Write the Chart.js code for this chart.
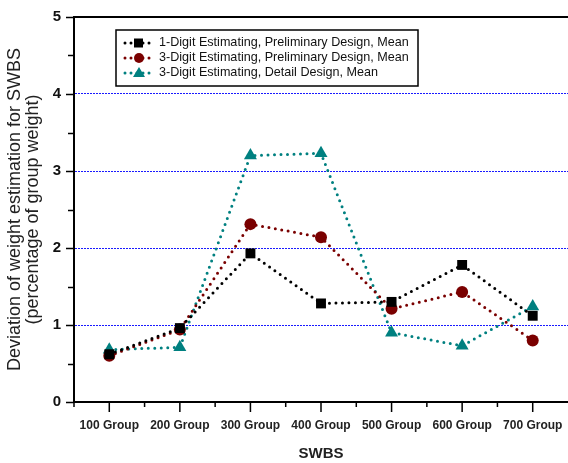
<!DOCTYPE html>
<html>
<head>
<meta charset="utf-8">
<script src="https://cdn.jsdelivr.net/npm/chart.js@4.4.1/dist/chart.umd.min.js"></script>
<style>
  html, body { margin: 0; padding: 0; background: #fff; }
  #wrap { width: 568px; height: 463px; position: relative; }
</style>
</head>
<body>
<div id="wrap"><canvas id="chart"></canvas></div>
<script>
const groups = ['100 Group', '200 Group', '300 Group', '400 Group', '500 Group', '600 Group', '700 Group'];
const oneDigitPrelim = [0.62, 0.96, 1.93, 1.28, 1.30, 1.78, 1.12];
const threeDigitPrelim = [0.60, 0.94, 2.31, 2.14, 1.21, 1.43, 0.80];
const threeDigitDetail = [0.68, 0.71, 3.20, 3.23, 0.90, 0.73, 1.24];
const yTicks = [0, 1, 2, 3, 4, 5];

const FONT = "Arial, 'Liberation Sans', sans-serif";

// axis tick marks, top frame line and the boxed legend
const extras = {
    id: 'extras',
    afterDraw(chart) {
        const c = chart.ctx;
        const x = chart.scales.x, y = chart.scales.y;
        const area = chart.chartArea;
        c.save();
        c.strokeStyle = '#000';
        c.lineWidth = 2;
        c.beginPath();
        c.moveTo(area.left - 1, area.top);
        c.lineTo(area.right, area.top);
        c.stroke();

        c.lineWidth = 1.5;
        c.beginPath();
        for (let v = 0; v <= 5; v += 0.5) {
            const py = Math.round(y.getPixelForValue(v)) + 0.5;
            const len = Number.isInteger(v) ? 8 : 6;
            c.moveTo(area.left - len, py);
            c.lineTo(area.left, py);
        }
        const half = (x.getPixelForValue(1) - x.getPixelForValue(0)) / 2;
        for (let i = 0; i < groups.length; i++) {
            const px = x.getPixelForValue(i);
            c.moveTo(px, area.bottom);
            c.lineTo(px, area.bottom + 10);
            c.moveTo(px - half, area.bottom);
            c.lineTo(px - half, area.bottom + 5);
        }
        c.stroke();

        // legend
        const lx = 116, ly = 30, lw = 302, lh = 56;
        c.fillStyle = '#fff';
        c.fillRect(lx, ly, lw, lh);
        c.lineWidth = 1.5;
        c.strokeStyle = '#000';
        c.strokeRect(lx, ly, lw, lh);
        chart.data.datasets.forEach((ds, i) => {
            const ry = 43 + i * 15;
            c.strokeStyle = ds.borderColor;
            c.lineWidth = 3;
            c.lineCap = 'round';
            c.setLineDash([0, 6]);
            c.beginPath();
            c.moveTo(125, ry);
            c.lineTo(153, ry);
            c.stroke();
            c.setLineDash([]);
            c.fillStyle = ds.backgroundColor;
            c.beginPath();
            if (ds.pointStyle === 'rect') {
                c.rect(134, ry - 4.5, 9, 9);
            } else if (ds.pointStyle === 'circle') {
                c.arc(139, ry, 5, 0, Math.PI * 2);
            } else {
                c.moveTo(139, ry - 6);
                c.lineTo(145, ry + 4);
                c.lineTo(133, ry + 4);
                c.closePath();
            }
            c.fill();
            c.fillStyle = '#111';
            c.font = '12.6px ' + FONT;
            c.textBaseline = 'middle';
            c.fillText(ds.label, 159, ry);
        });
        c.restore();
    }
};

const ctx = document.querySelector('#chart').getContext('2d');
const chart = new Chart(ctx, {
    type: 'line',
    data: {
        labels: groups,
        datasets: [{
            label: '1-Digit Estimating, Preliminary Design, Mean',
            data: oneDigitPrelim,
            borderColor: '#000000',
            backgroundColor: '#000000',
            pointStyle: 'rect',
            pointRadius: 7
        }, {
            label: '3-Digit Estimating, Preliminary Design, Mean',
            data: threeDigitPrelim,
            borderColor: '#7a0000',
            backgroundColor: '#7a0000',
            pointStyle: 'circle',
            pointRadius: 6
        }, {
            label: '3-Digit Estimating, Detail Design, Mean',
            data: threeDigitDetail,
            borderColor: '#008080',
            backgroundColor: '#008080',
            pointStyle: 'triangle',
            pointRadius: 7.5
        }].map(ds => Object.assign(ds, {
            borderWidth: 3,
            borderDash: [0, 6.5],
            borderCapStyle: 'round',
            pointBorderWidth: 0,
            tension: 0,
            clip: false
        }))
    },
    options: {
        responsive: true,
        maintainAspectRatio: false,
        animation: false,
        layout: { autoPadding: false, padding: { top: 17, right: 0, left: 0, bottom: 0 } },
        plugins: {
            legend: { display: false },
            tooltip: { enabled: false }
        },
        scales: {
            x: {
                offset: true,
                grid: { display: false, drawTicks: false },
                border: { display: true, color: '#000', width: 2 },
                ticks: {
                    padding: 16,
                    color: '#222',
                    font: { family: FONT, size: 12, weight: 'bold' },
                    maxRotation: 0,
                    autoSkip: false
                },
                title: {
                    display: true,
                    text: 'SWBS',
                    color: '#222',
                    font: { family: FONT, size: 15, weight: 'bold' },
                    padding: { top: 10, bottom: 0 }
                },
                afterFit(scale) {
                    scale.height = 61;
                    scale.paddingLeft = 0;
                    scale.paddingRight = 0;
                }
            },
            y: {
                min: 0,
                max: 5,
                afterBuildTicks(scale) { scale.ticks = yTicks.map(v => ({ value: v })); },
                grid: {
                    drawTicks: false,
                    lineWidth: 1,
                    color: c => (c.tick && c.tick.value > 0 && c.tick.value < 5) ? '#1a1aff' : 'rgba(0,0,0,0)'
                },
                border: { display: true, color: '#000', width: 2, dash: [2, 1] },
                ticks: {
                    padding: 13,
                    color: '#111',
                    font: { family: FONT, size: 15, weight: 'bold' }
                },
                title: {
                    display: true,
                    text: ['Deviation of weight estimation for SWBS', '(percentage of group weight)'],
                    color: '#222',
                    font: { family: FONT, size: 18, lineHeight: 1.0 },
                    padding: { top: 6, bottom: 0 }
                },
                afterFit(scale) {
                    scale.width = 74;
                    scale.paddingTop = 0;
                    scale.paddingBottom = 0;
                }
            }
        }
    },
    plugins: [extras]
});
</script>
</body>
</html>
